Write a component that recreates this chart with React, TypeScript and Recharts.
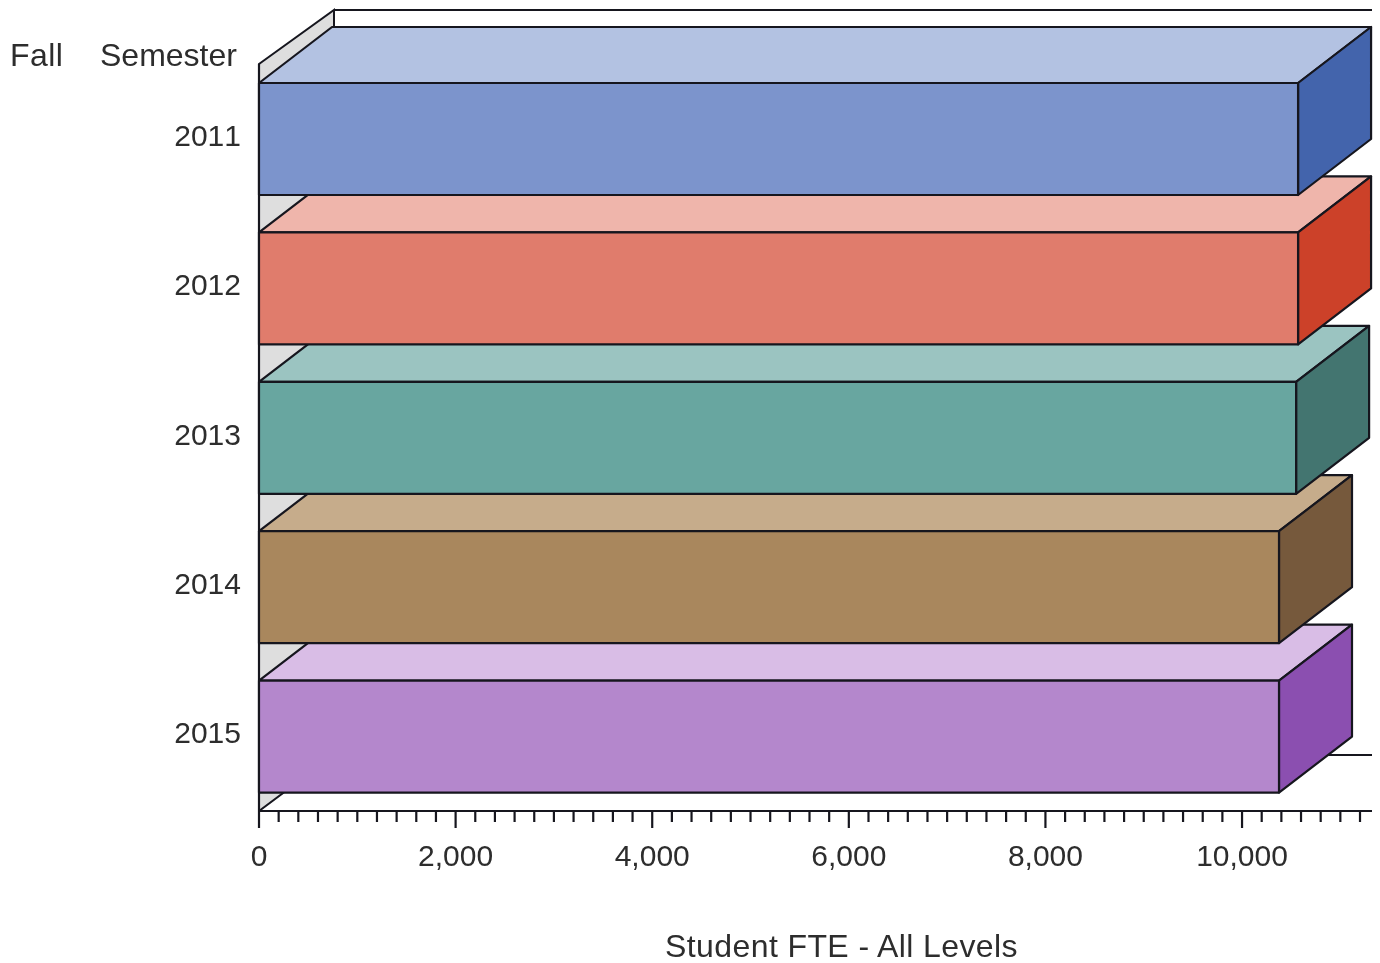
import { Bar, BarChart, Label, XAxis, YAxis, usePlotArea } from "recharts";

// Painted bottom to top: the nearer bar hides the top face of the one below it.
const YEARS = ["2015", "2014", "2013", "2012", "2011"];
const FTE = [10376, 10376, 10550, 10570, 10570];
const AXIS_MAX = 11322;

// Every 200 gets a tick, every 2,000 gets a long tick and a label.
const X_TICKS = [
  0, 200, 400, 600, 800, 1000, 1200, 1400, 1600, 1800,
  2000, 2200, 2400, 2600, 2800, 3000, 3200, 3400, 3600, 3800,
  4000, 4200, 4400, 4600, 4800, 5000, 5200, 5400, 5600, 5800,
  6000, 6200, 6400, 6600, 6800, 7000, 7200, 7400, 7600, 7800,
  8000, 8200, 8400, 8600, 8800, 9000, 9200, 9400, 9600, 9800,
  10000, 10200, 10400, 10600, 10800, 11000, 11200,
];

const FRONT = ["#b487cc", "#a9875d", "#68a6a0", "#e07c6c", "#7c94cc"];
const TOP = ["#d9bde6", "#c6ac8b", "#9bc4c1", "#efb5ab", "#b3c2e2"];
const SIDE = ["#8b4fb0", "#76593c", "#437570", "#cc4129", "#4364ac"];

const INK = "#16161e";
const TEXT = "#2d2d2d";
const FONT = "'Liberation Sans', Arial, sans-serif";
const FONT_SIZE = 30;
const WORD_SIZE = 32;
const DEPTH_X = 73;
const DEPTH_Y = 56;

const rows = YEARS.map((year, i) => ({ year, fte: FTE[i] }));

function Walls() {
  const plot = usePlotArea();
  if (!plot) return null;
  const left = plot.x;
  const right = plot.x + plot.width;
  const top = plot.y;
  const bottom = plot.y + plot.height;
  const backX = left + DEPTH_X + 2;
  const backTop = top - 54;
  const backBottom = bottom - 56;
  return (
    <g>
      <polygon
        points={`${left},${top} ${backX},${backTop} ${backX},${backBottom} ${left},${bottom}`}
        fill="#dedede"
        stroke={INK}
        strokeWidth={2}
      />
      <line x1={backX} y1={backTop} x2={right} y2={backTop} stroke={INK} strokeWidth={2.2} />
      <line x1={backX} y1={backBottom} x2={right} y2={backBottom} stroke={INK} strokeWidth={2.2} />
      <line x1={left} y1={top} x2={left} y2={bottom} stroke={INK} strokeWidth={2.2} />
      <text x={10} y={66} fontFamily={FONT} fontSize={WORD_SIZE} letterSpacing={0.4} fill={TEXT}>
        Fall
      </text>
      <text x={100} y={66} fontFamily={FONT} fontSize={WORD_SIZE} fill={TEXT}>
        Semester
      </text>
    </g>
  );
}

function Box3D(props: any) {
  const { x, y, width, height, index } = props;
  const r = x + width;
  const b = y + height;
  return (
    <g stroke={INK} strokeWidth={2.2} strokeLinejoin="round">
      <polygon
        points={`${x},${y} ${x + DEPTH_X},${y - DEPTH_Y} ${r + DEPTH_X},${y - DEPTH_Y} ${r},${y}`}
        fill={TOP[index]}
      />
      <polygon
        points={`${r},${y} ${r + DEPTH_X},${y - DEPTH_Y} ${r + DEPTH_X},${b - DEPTH_Y} ${r},${b}`}
        fill={SIDE[index]}
      />
      <rect x={x} y={y} width={width} height={height} fill={FRONT[index]} />
    </g>
  );
}

function XTick(props: any) {
  const { x, y, payload } = props;
  const isMajor = payload.value % 2000 === 0;
  return (
    <g>
      <line x1={x} y1={y} x2={x} y2={y + (isMajor ? 17 : 11)} stroke={INK} strokeWidth={2.2} />
      {isMajor && (
        <text x={x} y={y + 55} textAnchor="middle" fontFamily={FONT} fontSize={FONT_SIZE} fill={TEXT}>
          {payload.value.toLocaleString("en-US")}
        </text>
      )}
    </g>
  );
}

function YTick(props: any) {
  const { y, payload } = props;
  return (
    <text x={241} y={y + 7} textAnchor="end" fontFamily={FONT} fontSize={FONT_SIZE} fill={TEXT} style={{ fontKerning: "none" }}>
      {payload.value}
    </text>
  );
}

export default function App() {
  return (
    <div style={{ position: "absolute", left: 0, top: 0, width: 1380, height: 963, filter: "blur(0.6px)" }}>
      <BarChart
        width={1380}
        height={963}
        data={rows}
        layout="vertical"
        margin={{ top: 64, right: 8, bottom: 0, left: 0 }}
        barSize={112}
      >
        <Walls />
        <XAxis
          type="number"
          domain={[0, AXIS_MAX]}
          ticks={X_TICKS}
          interval={0}
          height={152}
          tick={<XTick />}
          tickLine={false}
          tickSize={0}
          tickMargin={0}
          stroke={INK}
          strokeWidth={2.2}
        >
          <Label
            value="Student FTE - All Levels"
            position="insideBottom"
            offset={6}
            dx={26}
            fontFamily={FONT}
            fontSize={WORD_SIZE}
            letterSpacing={0.4}
            fill={TEXT}
          />
        </XAxis>
        <YAxis
          type="category"
          dataKey="year"
          reversed
          width={259}
          tick={<YTick />}
          axisLine={false}
          tickLine={false}
          tickSize={0}
          tickMargin={0}
        />
        <Bar dataKey="fte" shape={<Box3D />} isAnimationActive={false} />
      </BarChart>
    </div>
  );
}
